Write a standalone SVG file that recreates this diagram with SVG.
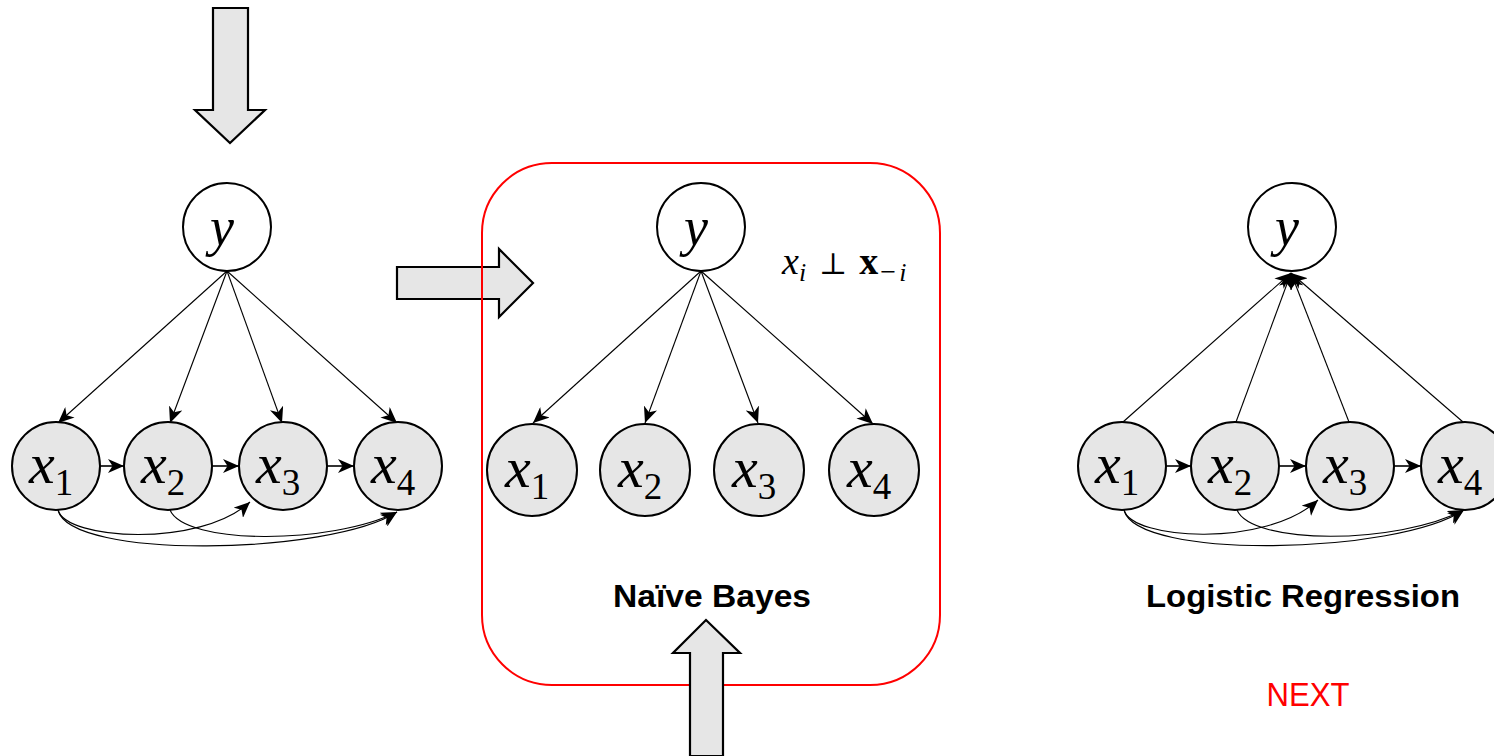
<svg xmlns="http://www.w3.org/2000/svg" width="1494" height="756" viewBox="0 0 1494 756">
  <style>
    .node { fill: #e6e6e6; stroke: #000; stroke-width: 2; }
    .ynode { fill: #fff; stroke: #000; stroke-width: 2; }
    .block { fill: #e6e6e6; stroke: #000; stroke-width: 2.2; stroke-linejoin: miter; }
    .edge { fill: none; stroke: #000; stroke-width: 1.1; marker-end: url(#head); }
    .chain { fill: none; stroke: #333; stroke-width: 2; marker-end: url(#head); }
    .math { font-family: "Liberation Serif", "DejaVu Serif", serif; text-anchor: middle; }
    .v { font-style: italic; font-size: 58px; }
    .yv { font-style: italic; font-size: 54px; }
    .s { font-size: 37px; }
    .title { font-family: "Liberation Sans", Arial, sans-serif; font-weight: bold; font-size: 32px; text-anchor: middle; }
  </style>
  <defs>
    <marker id="head" viewBox="0 0 16 14" refX="16" refY="7" markerWidth="16" markerHeight="14" markerUnits="userSpaceOnUse" orient="auto">
      <path d="M0,0 L16,7 L0,14 L4.5,7 z" fill="#000"/>
    </marker>
  </defs>

  <!-- block arrows and the highlighted frame -->
  <polygon class="block" points="213,8 248,8 248,110 265,110 230,143 195,110 213,110"/>
  <polygon class="block" points="397,267 499,267 499,249 533,283 499,317 499,299 397,299"/>
  <rect x="482" y="163" width="458" height="522" rx="70" ry="70" fill="none" stroke="#ff0000" stroke-width="2"/>
  <polygon class="block" points="706,620 740,653 723,653 723,756 690,756 690,653 673,653"/>

  <!-- connectors -->
  <g id="connectors">
    <!-- full dependency graph -->
    <path class="edge" d="M227,271 L58,423"/>
    <path class="edge" d="M227,271 L170,423"/>
    <path class="edge" d="M227,271 L282,423"/>
    <path class="edge" d="M227,271 L397,423"/>
    <path class="chain" d="M100,466 L124,466"/>
    <path class="chain" d="M212,466 L239,466"/>
    <path class="chain" d="M327,466 L354,466"/>
    <path class="edge" d="M58,510 C66,540 200,548 250,502"/>
    <path class="edge" d="M58,510 C70,560 330,555 397,512"/>
    <path class="edge" d="M170,510 C185,545 330,545 397,512"/>

    <!-- naive Bayes -->
    <path class="edge" d="M701,271 L533,423"/>
    <path class="edge" d="M701,271 L645,423"/>
    <path class="edge" d="M701,271 L758,423"/>
    <path class="edge" d="M701,271 L873,424"/>

    <!-- logistic regression -->
    <path class="edge" d="M1123,422 L1291,273"/>
    <path class="edge" d="M1236,422 L1291,273"/>
    <path class="edge" d="M1349,422 L1291,273"/>
    <path class="edge" d="M1463,422 L1291,273"/>
    <path class="chain" d="M1166,466 L1191,466"/>
    <path class="chain" d="M1279,466 L1306,466"/>
    <path class="chain" d="M1394,466 L1421,466"/>
    <path class="edge" d="M1124,510 C1132,540 1266,548 1318,500"/>
    <path class="edge" d="M1124,510 C1136,560 1396,555 1464,510"/>
    <path class="edge" d="M1237,510 C1252,545 1396,545 1464,510"/>
  </g>

  <!-- full dependency graph nodes -->
  <g id="full-y"><circle class="ynode" cx="227" cy="227" r="44"/><text class="math" x="222" y="245"><tspan class="yv">y</tspan></text></g>
  <g id="full-x1"><circle class="node" cx="56" cy="466" r="44"/><text class="math" x="51" y="483"><tspan class="v">x</tspan><tspan class="s" dy="12">1</tspan></text></g>
  <g id="full-x2"><circle class="node" cx="168" cy="466" r="44"/><text class="math" x="163" y="483"><tspan class="v">x</tspan><tspan class="s" dy="12">2</tspan></text></g>
  <g id="full-x3"><circle class="node" cx="283" cy="466" r="44"/><text class="math" x="278" y="483"><tspan class="v">x</tspan><tspan class="s" dy="12">3</tspan></text></g>
  <g id="full-x4"><circle class="node" cx="398" cy="466" r="44"/><text class="math" x="393" y="483"><tspan class="v">x</tspan><tspan class="s" dy="12">4</tspan></text></g>

  <!-- naive Bayes nodes -->
  <g id="nb-y"><circle class="ynode" cx="701" cy="227" r="44"/><text class="math" x="696" y="245"><tspan class="yv">y</tspan></text></g>
  <g id="nb-x1"><ellipse class="node" cx="532" cy="470" rx="45" ry="46"/><text class="math" x="527" y="487"><tspan class="v">x</tspan><tspan class="s" dy="12">1</tspan></text></g>
  <g id="nb-x2"><ellipse class="node" cx="645" cy="470" rx="45" ry="46"/><text class="math" x="640" y="487"><tspan class="v">x</tspan><tspan class="s" dy="12">2</tspan></text></g>
  <g id="nb-x3"><ellipse class="node" cx="759" cy="470" rx="45" ry="46"/><text class="math" x="754" y="487"><tspan class="v">x</tspan><tspan class="s" dy="12">3</tspan></text></g>
  <g id="nb-x4"><ellipse class="node" cx="874" cy="470" rx="45" ry="46"/><text class="math" x="869" y="487"><tspan class="v">x</tspan><tspan class="s" dy="12">4</tspan></text></g>
  <g id="nb-indep">
    <text font-family="'Liberation Serif', 'DejaVu Serif', serif" font-size="38" x="782" y="274"><tspan font-style="italic">x</tspan><tspan font-style="italic" font-size="26" dy="7">i</tspan><tspan dy="-7" dx="13" font-size="30">⊥</tspan><tspan font-weight="bold" dx="12">x</tspan><tspan font-size="28" dy="7" dx="2">−</tspan><tspan font-style="italic" font-size="26" dx="3">i</tspan></text>
  </g>
  <g id="nb-label"><text class="title" x="712" y="607" textLength="198" lengthAdjust="spacingAndGlyphs">Naïve Bayes</text></g>

  <!-- logistic regression nodes -->
  <g id="lr-y"><circle class="ynode" cx="1292" cy="227" r="44"/><text class="math" x="1287" y="245"><tspan class="yv">y</tspan></text></g>
  <g id="lr-x1"><circle class="node" cx="1122" cy="466" r="44"/><text class="math" x="1117" y="483"><tspan class="v">x</tspan><tspan class="s" dy="12">1</tspan></text></g>
  <g id="lr-x2"><circle class="node" cx="1235" cy="466" r="44"/><text class="math" x="1230" y="483"><tspan class="v">x</tspan><tspan class="s" dy="12">2</tspan></text></g>
  <g id="lr-x3"><circle class="node" cx="1350" cy="466" r="44"/><text class="math" x="1345" y="483"><tspan class="v">x</tspan><tspan class="s" dy="12">3</tspan></text></g>
  <g id="lr-x4"><circle class="node" cx="1465" cy="466" r="44"/><text class="math" x="1460" y="483"><tspan class="v">x</tspan><tspan class="s" dy="12">4</tspan></text></g>
  <g id="lr-label"><text class="title" x="1303" y="607" textLength="314" lengthAdjust="spacingAndGlyphs">Logistic Regression</text></g>

  <g id="next"><text x="1308" y="706" font-family="'Liberation Sans', Arial, sans-serif" font-size="34" fill="#ff0000" text-anchor="middle" textLength="83" lengthAdjust="spacingAndGlyphs">NEXT</text></g>
</svg>
